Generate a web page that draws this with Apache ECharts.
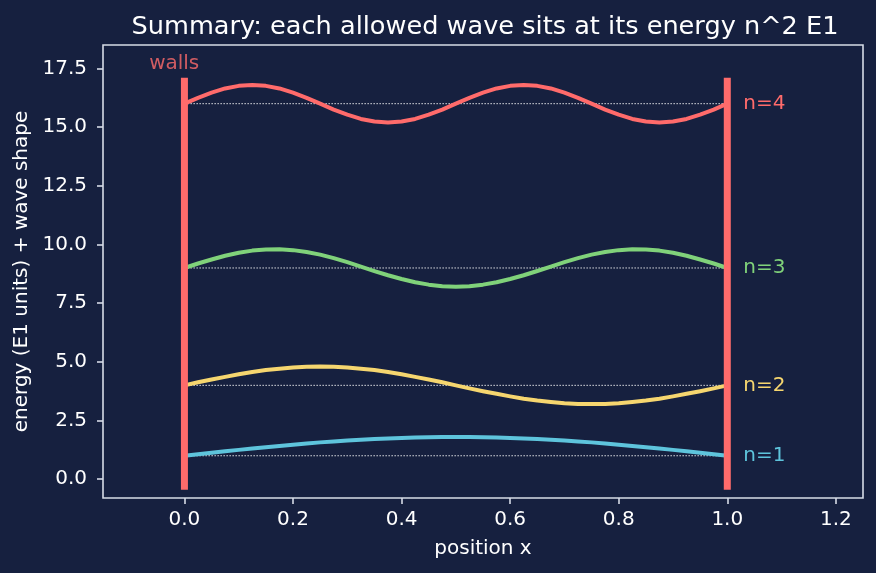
<!DOCTYPE html>
<html>
<head>
<meta charset="utf-8">
<script src="https://cdn.jsdelivr.net/npm/echarts@6/dist/echarts.min.js"></script>
<style>
  html, body { margin: 0; padding: 0; background: #16203f; }
  #chart { width: 876px; height: 573px; }
</style>
</head>
<body>
<div id="chart"></div>
<script>
// sample positions along the box
const xs = [0, 0.025, 0.05, 0.075, 0.1, 0.125, 0.15, 0.175, 0.2, 0.225, 0.25,
            0.275, 0.3, 0.325, 0.35, 0.375, 0.4, 0.425, 0.45, 0.475, 0.5,
            0.525, 0.55, 0.575, 0.6, 0.625, 0.65, 0.675, 0.7, 0.725, 0.75,
            0.775, 0.8, 0.825, 0.85, 0.875, 0.9, 0.925, 0.95, 0.975, 1];

// energy level + wave shape
const wave1 = [1.00, 1.06, 1.13, 1.19, 1.25, 1.31, 1.36, 1.42, 1.47, 1.52, 1.57,
               1.61, 1.65, 1.68, 1.71, 1.74, 1.76, 1.78, 1.79, 1.80, 1.80,
               1.80, 1.79, 1.78, 1.76, 1.74, 1.71, 1.68, 1.65, 1.61, 1.57,
               1.52, 1.47, 1.42, 1.36, 1.31, 1.25, 1.19, 1.13, 1.06, 1.00];
const wave2 = [4.00, 4.13, 4.25, 4.36, 4.47, 4.57, 4.65, 4.71, 4.76, 4.79, 4.80,
               4.79, 4.76, 4.71, 4.65, 4.57, 4.47, 4.36, 4.25, 4.13, 4.00,
               3.87, 3.75, 3.64, 3.53, 3.43, 3.35, 3.29, 3.24, 3.21, 3.20,
               3.21, 3.24, 3.29, 3.35, 3.43, 3.53, 3.64, 3.75, 3.87, 4.00];
const wave3 = [9.00, 9.19, 9.36, 9.52, 9.65, 9.74, 9.79, 9.80, 9.76, 9.68, 9.57,
               9.42, 9.25, 9.06, 8.87, 8.69, 8.53, 8.39, 8.29, 8.22, 8.20,
               8.22, 8.29, 8.39, 8.53, 8.69, 8.87, 9.06, 9.25, 9.42, 9.57,
               9.68, 9.76, 9.80, 9.79, 9.74, 9.65, 9.52, 9.36, 9.19, 9.00];
const wave4 = [16.00, 16.25, 16.47, 16.65, 16.76, 16.80, 16.76, 16.65, 16.47, 16.25, 16.00,
               15.75, 15.53, 15.35, 15.24, 15.20, 15.24, 15.35, 15.53, 15.75, 16.00,
               16.25, 16.47, 16.65, 16.76, 16.80, 16.76, 16.65, 16.47, 16.25, 16.00,
               15.75, 15.53, 15.35, 15.24, 15.20, 15.24, 15.35, 15.53, 15.75, 16.00];

const levels = [1, 4, 9, 16];
const levelNames = ['n=1', 'n=2', 'n=3', 'n=4'];
const levelColors = ['#5ec4dc', '#f6d66f', '#80d27a', '#ff6b6b'];

const wallX = [0, 1];
const wallSpan = [-0.45, 17.1];
const wallLabelAt = [-0.065, 17.72];

const xTicks = [0, 0.2, 0.4, 0.6, 0.8, 1.0, 1.2];
const yTicks = [0, 2.5, 5, 7.5, 10, 12.5, 15, 17.5];

const fg = '#ffffff';
const spine = '#d6dbe6';
const font = 'DejaVu Sans';

const chart = echarts.init(document.getElementById('chart'));

const waves = [wave1, wave2, wave3, wave4];
const series = [];

// dotted baselines at each energy
levels.forEach(e => {
  series.push({
    type: 'line',
    data: [[0, e], [1, e]],
    symbol: 'none',
    silent: true,
    z: 2,
    lineStyle: { color: 'rgba(255,255,255,0.85)', width: 1, type: [1.5, 1.5] }
  });
});

// the waves
waves.forEach((w, i) => {
  series.push({
    type: 'line',
    data: xs.map((x, k) => [x, w[k]]),
    symbol: 'none',
    z: 3,
    lineStyle: { color: levelColors[i], width: 4, join: 'round' },
    endLabel: {
      show: true,
      formatter: levelNames[i],
      color: levelColors[i],
      fontSize: 20,
      fontFamily: font,
      distance: 16
    }
  });
});

// walls
wallX.forEach(x => {
  series.push({
    type: 'line',
    data: [[x, wallSpan[0]], [x, wallSpan[1]]],
    symbol: 'none',
    z: 4,
    lineStyle: { color: '#ff6b6b', width: 7, cap: 'butt' }
  });
});

// "walls" text
series.push({
  type: 'scatter',
  data: [wallLabelAt],
  symbolSize: 0,
  silent: true,
  label: {
    show: true,
    position: 'right',
    distance: 0,
    formatter: 'walls',
    color: '#ff6b6b',
    fontSize: 20,
    fontFamily: font
  }
});

const option = {
  backgroundColor: '#16203f',
  animation: false,
  textStyle: { fontFamily: font },
  title: {
    text: 'Summary: each allowed wave sits at its energy n^2 E1',
    left: 480,
    textAlign: 'center',
    top: 9,
    textStyle: { color: fg, fontSize: 25.6, fontWeight: 'normal', fontFamily: font }
  },
  grid: {
    left: 103, right: 13, top: 45, bottom: 75,
    show: true,
    borderColor: spine,
    borderWidth: 1.6,
    backgroundColor: 'transparent'
  },
  xAxis: {
    type: 'value',
    min: -0.15,
    max: 1.25,
    name: 'position x',
    nameLocation: 'middle',
    nameGap: 41,
    nameTextStyle: { color: fg, fontSize: 20, fontFamily: font },
    axisLine: { show: false, onZero: false },
    splitLine: { show: false },
    axisTick: {
      show: true, length: 6, customValues: xTicks,
      lineStyle: { color: spine, width: 1.6 }
    },
    axisLabel: {
      customValues: xTicks, margin: 12,
      color: fg, fontSize: 20, fontFamily: font,
      formatter: v => v.toFixed(1)
    }
  },
  yAxis: {
    type: 'value',
    min: -0.8,
    max: 18.5,
    name: 'energy (E1 units) + wave shape',
    nameLocation: 'middle',
    nameGap: 70,
    nameTextStyle: { color: fg, fontSize: 20, fontFamily: font },
    axisLine: { show: false, onZero: false },
    splitLine: { show: false },
    axisTick: {
      show: true, length: 6, customValues: yTicks,
      lineStyle: { color: spine, width: 1.6 }
    },
    axisLabel: {
      customValues: yTicks, margin: 16,
      color: fg, fontSize: 20, fontFamily: font,
      formatter: v => v.toFixed(1)
    }
  },
  series: series
};

chart.setOption(option);
</script>
</body>
</html>
